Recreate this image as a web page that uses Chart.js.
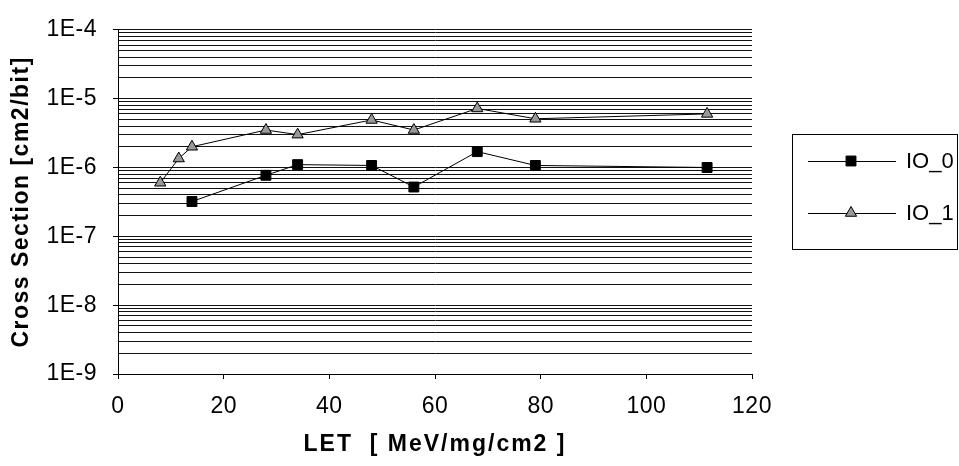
<!DOCTYPE html>
<html>
<head>
<meta charset="utf-8">
<script src="https://cdn.jsdelivr.net/npm/chart.js@4.4.0/dist/chart.umd.min.js"></script>
<style>
html,body{margin:0;padding:0;background:#fff;}
#wrap{width:959px;height:466px;position:relative;}
</style>
</head>
<body>
<div id="wrap"><canvas id="c" width="959" height="466"></canvas></div>
<script>
// ---- data ----
const seriesNames = ['IO_0', 'IO_1'];
const letIO0 = [14, 28, 34, 48, 56, 68, 79, 111.5];
const csIO0  = [3.2e-7, 7.7e-7, 1.1e-6, 1.07e-6, 5.2e-7, 1.7e-6, 1.07e-6, 1.0e-6];
const letIO1 = [8, 11.5, 14, 28, 34, 48, 56, 68, 79, 111.5];
const csIO1  = [6.0e-7, 1.35e-6, 2.0e-6, 3.5e-6, 3.0e-6, 4.9e-6, 3.5e-6, 7.2e-6, 5.1e-6, 6.0e-6];
const xTicks = [0, 20, 40, 60, 80, 100, 120];
const yDecades = [-9, -8, -7, -6, -5, -4];
const xTitle = 'LET  [ MeV/mg/cm2 ]';
const yTitle = 'Cross Section [cm2/bit]';

const FONT = '"Liberation Sans", Arial, sans-serif';

function pts(xs, ys){ return xs.map((x,i)=>({x:x, y:ys[i]})); }
function isDecade(v){ const l = Math.log10(v); return Math.abs(l - Math.round(l)) < 1e-6; }

// give labels and titles their own letter spacing
function wrapScale(scale, titleSpacing){
  if (scale._spacingWrapped) return;
  scale._spacingWrapped = true;
  const c = scale.ctx;
  const origTitle = scale.drawTitle;
  scale.drawTitle = function(){
    c.save(); c.letterSpacing = titleSpacing; origTitle.apply(this, arguments); c.restore();
  };
  const origLabels = scale.drawLabels;
  scale.drawLabels = function(){
    c.save(); c.letterSpacing = '0.5px'; origLabels.apply(this, arguments); c.restore();
  };
}

const legendPlugin = {
  id: 'boxLegend',
  afterDraw(chart){
    const ctx = chart.ctx;
    ctx.save();
    ctx.strokeStyle = '#000';
    ctx.lineWidth = 1;
    ctx.strokeRect(792.5, 134.5, 165, 115);
    const rows = [161, 213];
    chart.data.datasets.forEach((ds, i) => {
      const y = rows[i];
      ctx.beginPath();
      ctx.moveTo(808, y + 0.5);
      ctx.lineTo(896, y + 0.5);
      ctx.strokeStyle = ds.borderColor;
      ctx.lineWidth = 1;
      ctx.stroke();
      ctx.fillStyle = ds.pointBackgroundColor;
      ctx.strokeStyle = ds.pointBorderColor;
      ctx.lineWidth = 1;
      Chart.helpers.drawPoint(ctx, {
        pointStyle: ds.pointStyle, radius: ds.pointRadius, borderWidth: 1, rotation: 0
      }, 851, y);
      ctx.fillStyle = '#000';
      ctx.font = '22px ' + FONT;
      ctx.letterSpacing = '0px';
      ctx.textBaseline = 'middle';
      ctx.textAlign = 'left';
      ctx.fillText(ds.label, 906, y + 1);
    });
    ctx.restore();
  }
};

const ctx = document.getElementById('c').getContext('2d');
new Chart(ctx, {
  type: 'scatter',
  data: {
    datasets: [
      { label: seriesNames[0], data: pts(letIO0, csIO0), showLine: true,
        borderColor: '#000', borderWidth: 1, pointStyle: 'rect', pointRadius: 7, pointHoverRadius: 7,
        pointBackgroundColor: '#000', pointBorderColor: '#000', pointBorderWidth: 1 },
      { label: seriesNames[1], data: pts(letIO1, csIO1), showLine: true,
        borderColor: '#000', borderWidth: 1, pointStyle: 'triangle', pointRadius: 6.5, pointHoverRadius: 6.5,
        pointBackgroundColor: '#999', pointBorderColor: '#000', pointBorderWidth: 1 }
    ]
  },
  options: {
    responsive: false,
    animation: false,
    devicePixelRatio: 1,
    layout: { padding: { top: 20, right: 207, left: 0, bottom: 0 } },
    plugins: { legend: { display: false }, tooltip: { enabled: false } },
    scales: {
      x: {
        type: 'linear', min: 0, max: 120,
        afterBuildTicks(scale){ scale.ticks = xTicks.map(v => ({value: v})); },
        afterFit(scale){ scale.height = 92; wrapScale(scale, '2px'); },
        ticks: { color: '#000', font: { family: FONT, size: 23 }, padding: 14, maxRotation: 0 },
        grid: { drawOnChartArea: false, drawTicks: true, tickLength: 5, color: '#000', tickColor: '#000' },
        border: { display: true, color: '#000', width: 1 },
        title: { display: true, text: xTitle, color: '#000',
          font: { family: FONT, size: 23, weight: 'bold' }, padding: { top: 0, bottom: 8 } }
      },
      y: {
        type: 'logarithmic', min: 1e-9, max: 1e-4,
        afterBuildTicks(scale){
          const t = [];
          yDecades.forEach(e => {
            for (let m = 1; m <= 9; m++) {
              const v = m * Math.pow(10, e);
              if (v <= 1e-4 * 1.000001) t.push({ value: parseFloat(v.toPrecision(6)) });
            }
          });
          scale.ticks = t;
        },
        afterFit(scale){ scale.width = 118; wrapScale(scale, '1.5px'); },
        ticks: { autoSkip: false, color: '#000', font: { family: FONT, size: 23 }, padding: 16,
          callback(v){ return isDecade(v) ? '1E' + Math.round(Math.log10(v)) : ''; } },
        grid: { color: '#111', lineWidth: 1, tickLength: 5,
          tickColor: (c) => (c.tick && isDecade(c.tick.value)) ? '#000' : 'rgba(0,0,0,0)' },
        border: { display: true, color: '#000', width: 1 },
        title: { display: true, text: yTitle, color: '#000',
          font: { family: FONT, size: 23, weight: 'bold' }, padding: { top: 8, bottom: 0 } }
      }
    }
  },
  plugins: [legendPlugin]
});
</script>
</body>
</html>
